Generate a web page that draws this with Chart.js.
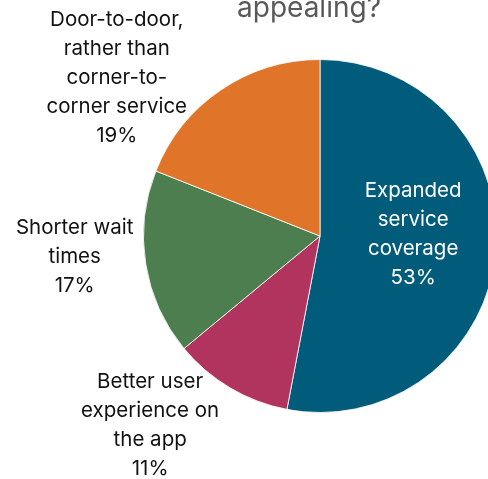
<!DOCTYPE html>
<html>
<head>
<meta charset="utf-8">
<script src="https://cdn.jsdelivr.net/npm/chart.js@4"></script>
<style>
  html, body { margin: 0; padding: 0; background: #fff; overflow: hidden; }
  #wrap { width: 488px; height: 479px; overflow: hidden; position: relative; }
  #chart { position: absolute; left: 0; top: 0; }
</style>
</head>
<body>
<div id="wrap"><canvas id="chart" width="640" height="479"></canvas></div>
<script>
// survey answers, clockwise from 12 o'clock
const categories = [
  ['Expanded', 'service', 'coverage'],
  ['Better user', 'experience on', 'the app'],
  ['Shorter wait', 'times'],
  ['Door-to-door,', 'rather than', 'corner-to-', 'corner service']
]
const shares = [53, 11, 17, 19]
const sliceColors = ['#015b7b', '#b0345e', '#4c7e4f', '#e07428']
const titleText = 'appealing?'

const FONT = 'Inter, "Noto Sans", sans-serif'

// where each label sits: 'in' = along the slice mid-angle, 'out' = off the rim
const labelPlace = [
  { mode: 'in', r: 0.53, dx: 0, dy: -10, color: '#ffffff' },
  { mode: 'out', dx: -80, dy: 37, color: '#111111' },
  { mode: 'out', dx: -71, dy: -7, color: '#111111' },
  { mode: 'out', dx: -104, dy: -12, color: '#111111' }
]

const sliceLabels = {
  id: 'sliceLabels',
  afterDatasetsDraw(chart) {
    const ctx = chart.ctx
    const arcs = chart.getDatasetMeta(0).data
    ctx.save()
    ctx.font = '20.5px ' + FONT
    ctx.textAlign = 'center'
    ctx.textBaseline = 'middle'
    arcs.forEach((arc, i) => {
      const { x, y, startAngle, endAngle, outerRadius } = arc.getProps(['x', 'y', 'startAngle', 'endAngle', 'outerRadius'], true)
      const mid = (startAngle + endAngle) / 2
      const p = labelPlace[i]
      const r = p.mode === 'in' ? outerRadius * p.r : outerRadius
      const cx = x + Math.cos(mid) * r + p.dx
      const cy = y + Math.sin(mid) * r + p.dy
      const lines = categories[i].concat([shares[i] + '%'])
      const lh = 29
      ctx.fillStyle = p.color
      lines.forEach((line, j) => {
        ctx.fillText(line, cx, cy + (j - (lines.length - 1) / 2) * lh)
      })
    })
    ctx.restore()
  }
}

// only the last line of the heading shows above the pie
const headline = {
  id: 'headline',
  afterDraw(chart) {
    const ctx = chart.ctx
    ctx.save()
    ctx.font = '28px ' + FONT
    ctx.fillStyle = '#595959'
    ctx.textAlign = 'center'
    ctx.textBaseline = 'alphabetic'
    ctx.fillText(titleText, 309, 17)
    ctx.restore()
  }
}

new Chart(document.getElementById('chart').getContext('2d'), {
  type: 'pie',
  data: {
    labels: categories.map(c => c.join(' ')),
    datasets: [{
      data: shares,
      backgroundColor: sliceColors,
      borderColor: 'rgba(255,255,255,0.8)',
      borderWidth: 1
    }]
  },
  options: {
    responsive: false,
    animation: false,
    layout: { padding: { top: 59, bottom: 66, left: 0, right: 0 } },
    plugins: {
      legend: { display: false },
      tooltip: { enabled: false },
      title: { display: false }
    }
  },
  plugins: [sliceLabels, headline]
})
</script>
</body>
</html>
